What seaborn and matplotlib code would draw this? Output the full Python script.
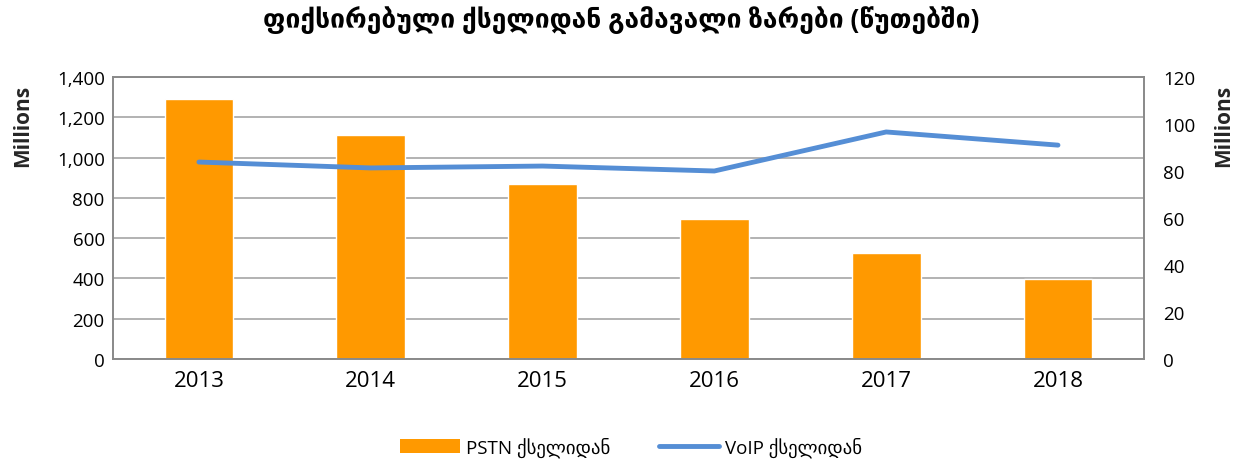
import numpy as np
import pandas as pd
import matplotlib
matplotlib.use("Agg")
import matplotlib.pyplot as plt
from matplotlib.patches import Patch
from matplotlib.lines import Line2D
from matplotlib.ticker import FuncFormatter
import seaborn as sns

# ── DATA ────────────────────────────────────────────────────────────────────
years      = ["2013", "2014", "2015", "2016", "2017", "2018"]
pstn_vals  = [1290, 1110, 870, 695, 526, 397]     # millions of minutes
voip_vals  = [83.8, 81.3, 82.1, 80.0, 96.6, 91.0]  # millions of minutes

TITLE      = "ფიქსირებული ქსელიდან გამავალი ზარები (წუთებში)"
PSTN_LABEL = "PSTN ქსელიდან"
VOIP_LABEL = "VoIP ქსელიდან"

ORANGE = "#FF9900"
BLUE   = "#558ED5"
GRID   = "#A6A6A6"
FONTS  = ["Open Sans", "DejaVu Sans"]

# ── STYLE ───────────────────────────────────────────────────────────────────
sns.set_theme(style="white")
plt.rcParams["font.family"] = FONTS
plt.rcParams["text.color"] = "black"
plt.rcParams["xtick.color"] = "black"
plt.rcParams["ytick.color"] = "black"

df = pd.DataFrame({"year": years, "pstn": pstn_vals, "voip": voip_vals})

fig = plt.figure(figsize=(12.42, 4.64), dpi=100)
ax = fig.add_axes([0.091, 0.224, 0.830, 0.608])

sns.barplot(data=df, x="year", y="pstn", color=ORANGE, width=0.4,
            saturation=1, ax=ax, zorder=2)
ax.set_ylim(0, 1400)
ax.set_yticks(np.arange(0, 1401, 200))
ax.yaxis.set_major_formatter(FuncFormatter(lambda v, p: f"{int(v):,}"))
ax.grid(axis="y", color=GRID, linewidth=1.2, zorder=0)
ax.set_axisbelow(True)
ax.set_xlabel("")
ax.set_ylabel("Millions", fontsize=15, fontweight="bold", loc="top")
ax.yaxis.set_label_coords(-0.088, 0.975)
ax.yaxis.label.set_va("center")
ax.tick_params(axis="x", labelsize=16, length=0, pad=8)
ax.tick_params(axis="y", labelsize=13.5, length=0, pad=6)

ax2 = ax.twinx()
sns.lineplot(data=df, x="year", y="voip", color=BLUE, linewidth=3.5,
             ax=ax2, solid_capstyle="round", sort=False)
ax2.set_ylim(0, 120)
ax2.set_yticks(np.arange(0, 121, 20))
ax2.set_ylabel("Millions", fontsize=15, fontweight="bold", loc="top",
               rotation=90)
ax2.yaxis.set_label_coords(1.077, 0.975)
ax2.yaxis.label.set_va("center")
ax2.tick_params(axis="y", labelsize=13.5, length=0, pad=14)
ax2.grid(False)
ax.set_xlim(-0.5, len(years) - 0.5)

for a in (ax, ax2):
    for s in a.spines.values():
        s.set_color("#898989")
        s.set_linewidth(1.2)

fig.suptitle(TITLE, fontsize=19, fontweight="bold", y=0.985, family=FONTS)

handles = [Patch(facecolor=ORANGE, edgecolor="none"),
           Line2D([0], [0], color=BLUE, linewidth=3.5)]
fig.legend(handles, [PSTN_LABEL, VOIP_LABEL], loc="center",
           bbox_to_anchor=(0.508, 0.035), ncol=2, frameon=False,
           fontsize=13.5, handlelength=3.2, handletextpad=0.3,
           columnspacing=2.6)

fig.savefig("out.png", dpi=100)
